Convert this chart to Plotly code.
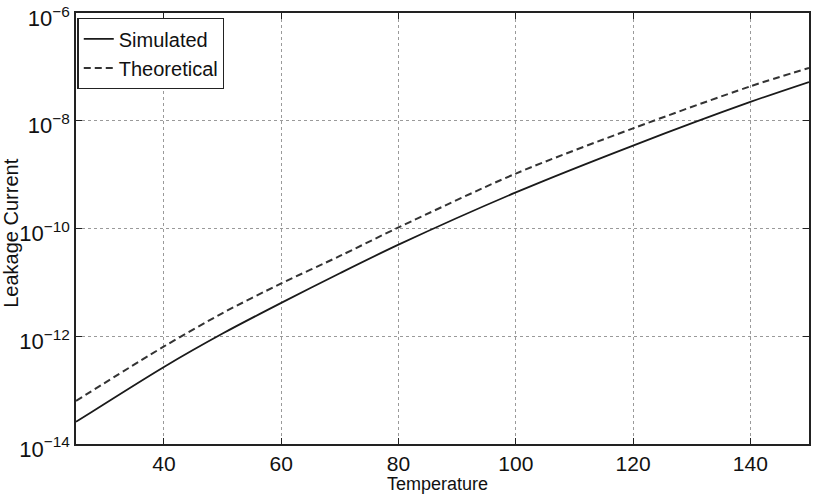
import plotly.graph_objects as go

temperature = [25, 40, 50, 60, 70, 80, 100, 120, 140, 150]
simulated_log = [-13.59, -12.57, -11.95, -11.38, -10.83, -10.30, -9.33, -8.46, -7.65, -7.28]
theoretical_log = [-13.20, -12.19, -11.57, -11.02, -10.51, -9.98, -8.98, -8.14, -7.36, -7.02]

x_ticks = [40, 60, 80, 100, 120, 140]
y_tick_exps = [-14, -12, -10, -8, -6]

simulated = [10 ** v for v in simulated_log]
theoretical = [10 ** v for v in theoretical_log]

FONT = "Liberation Sans, Arial, sans-serif"

fig = go.Figure()
fig.add_trace(go.Scatter(
    x=temperature, y=simulated, mode="lines", name="Simulated",
    line=dict(color="#1a1a1a", width=1.8, shape="spline", smoothing=0.8),
))
fig.add_trace(go.Scatter(
    x=temperature, y=theoretical, mode="lines", name="Theoretical",
    line=dict(color="#333333", width=2, dash="7px,4px", shape="spline", smoothing=0.8),
))

fig.update_layout(
    width=819, height=495,
    margin=dict(l=76, r=10, t=13, b=51),
    paper_bgcolor="white", plot_bgcolor="white",
    font=dict(family=FONT, color="#111", size=20),
    showlegend=True,
    legend=dict(
        x=0.002, y=0.988, xanchor="left", yanchor="top",
        bgcolor="white", bordercolor="#222", borderwidth=1.3,
        font=dict(size=20, family=FONT, color="#111"),
        itemwidth=30, tracegroupgap=0,
    ),
    xaxis=dict(
        range=[25, 150], tickvals=x_ticks, ticktext=[str(v) for v in x_ticks],
        showgrid=True, gridcolor="#9a9a9a", griddash="dot", gridwidth=1,
        showline=True, linecolor="#222", linewidth=1.6, mirror="ticks",
        ticks="inside", ticklen=6, tickcolor="#222", tickwidth=1.3,
        tickfont=dict(size=21), zeroline=False, automargin=False,
    ),
    yaxis=dict(
        type="log", range=[-14.001, -5.999],
        tickvals=[10 ** e for e in y_tick_exps],
        ticktext=["10<sup>\u2212%d</sup>" % (-e) for e in y_tick_exps],
        showgrid=True, gridcolor="#9a9a9a", griddash="dot", gridwidth=1,
        showline=True, linecolor="#222", linewidth=1.6, mirror="ticks",
        ticks="inside", ticklen=6, tickcolor="#222", tickwidth=1.3,
        tickfont=dict(size=22), zeroline=False, ticklabelstandoff=0,
        ticklabelshift=5, ticklabeloverflow="allow", automargin=False,
    ),
    annotations=[
        dict(
            text="Leakage Current", xref="paper", yref="paper",
            x=-0.0887, y=0.49, xanchor="center", yanchor="middle",
            textangle=-90, showarrow=False, font=dict(size=20),
        ),
        dict(
            text="Temperature", xref="paper", yref="paper",
            x=0.493, y=-0.0928, xanchor="center", yanchor="middle",
            showarrow=False, font=dict(size=18),
        ),
    ],
)

fig.write_html("out.html")
